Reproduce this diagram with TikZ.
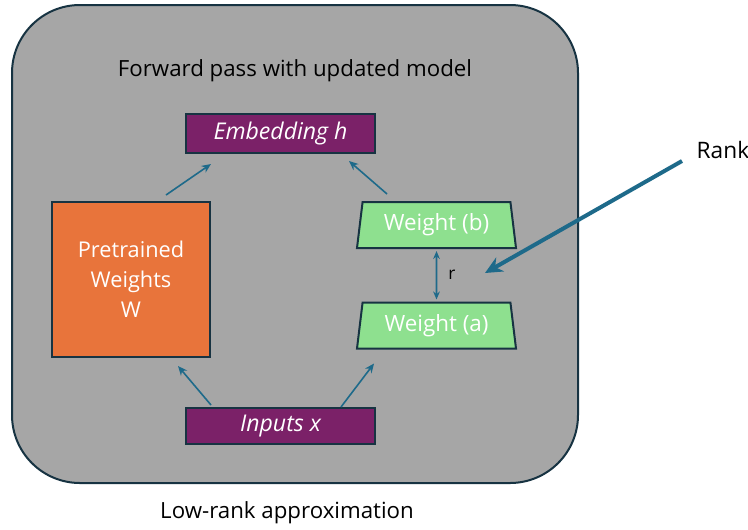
\documentclass[tikz,border=0pt]{standalone}
\usepackage{fontspec}
\setmainfont{Open Sans}
\usetikzlibrary{shapes.geometric,arrows.meta}
\definecolor{bggray}{HTML}{A6A6A6}
\definecolor{edge}{HTML}{173342}
\definecolor{purp}{HTML}{7B2168}
\definecolor{orng}{HTML}{E8743B}
\definecolor{grn}{HTML}{8EE08F}
\definecolor{teal}{HTML}{1E6A8A}
\tikzset{
  px/.style={x=0.75pt,y=-0.75pt},
  purplebox/.style={draw=edge,line width=1.5pt,fill=purp,text=white,font=\itshape\fontsize{17.3}{20}\selectfont,inner sep=0pt},
  weightbox/.style={trapezium,trapezium angle=76,trapezium stretches body,draw=edge,line width=1.5pt,fill=grn,text=white,font=\fontsize{16.8}{20}\selectfont,inner sep=0pt,minimum width=159*0.75pt,minimum height=46*0.75pt},
  arr/.style={draw=teal,line width=1.2pt,-{Stealth[length=7pt,width=6pt]}},
  plain/.style={font=\fontsize{16.7}{20}\selectfont,text=black}
}
\begin{document}
\begin{tikzpicture}[px]
\useasboundingbox (0,0) rectangle (748,529);
\fill[white] (0,0) rectangle (748,529);
\draw[edge,line width=1.5pt,fill=bggray,rounded corners=51pt] (12,5) rectangle (578,483);
\node[plain] (title) at (295,71) {Forward pass with updated model};
\node[purplebox,minimum width=189*0.75pt,minimum height=39*0.75pt] (emb) at (280.5,133.5) {Embedding h};
\node[purplebox,minimum width=189*0.75pt,minimum height=36*0.75pt] (inp) at (280.5,426) {Inputs x};
\node[draw=edge,line width=1.5pt,fill=orng,text=white,align=center,font=\fontsize{16.3}{22.5}\selectfont,minimum width=158*0.75pt,minimum height=155*0.75pt,inner sep=0pt] (pre) at (131,279.5) {Pretrained\\Weights\\W};
\node[weightbox] (wb) at (436.5,225) {Weight (b)};
\node[weightbox] (wa) at (436.5,325.5) {Weight (a)};
\draw[arr] ([shift={(115,-6)}]pre.north west) -- ([shift={(26,10)}]emb.south west);
\draw[arr] ([shift={(-49.5,-7)}]wb.north) -- ([shift={(-27,7)}]emb.south east);
\draw[arr] ([shift={(26,-2)}]inp.north west) -- ([shift={(127,8)}]pre.south west);
\draw[arr] ([shift={(-35,0)}]inp.north east) -- ([shift={(-62.5,14)}]wa.south);
\draw[draw=teal,line width=1.2pt,{Stealth[length=6pt,width=5pt]}-{Stealth[length=6pt,width=5pt]}] ([yshift=-2*0.75pt]wb.south) -- ([yshift=2*0.75pt]wa.north) node[midway,right=5pt,plain,font=\fontsize{13}{15}\selectfont] (r) {r};
\node[plain,anchor=west,font=\fontsize{17}{20}\selectfont] (rank) at (692,150) {Rank};
\coordinate (rankend) at (485,273);
\draw[teal,line width=3pt,-{Stealth[length=13pt,width=12pt]}] ([shift={(-10,11)}]rank.west) -- (rankend);
\node[plain] (low) at (287,513) {Low-rank approximation};
\end{tikzpicture}
\end{document}
